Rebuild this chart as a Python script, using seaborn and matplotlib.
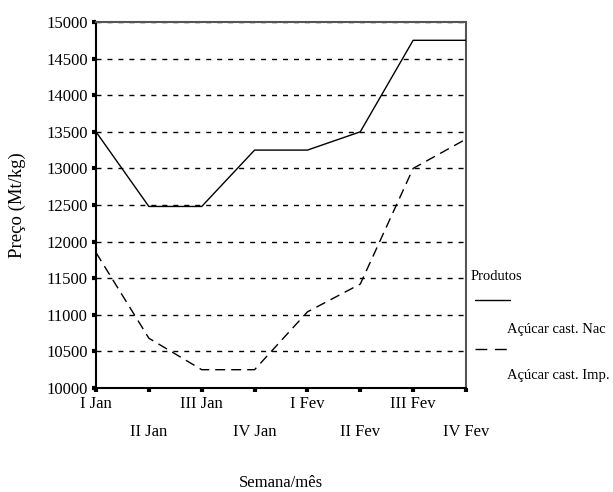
import matplotlib
matplotlib.use("Agg")
import matplotlib.pyplot as plt
from matplotlib.lines import Line2D
import seaborn as sns
import pandas as pd

weeks = ["I Jan", "II Jan", "III Jan", "IV Jan", "I Fev", "II Fev", "III Fev", "IV Fev"]
nac = [13500, 12480, 12480, 13250, 13250, 13500, 14750, 14750]
imp = [11850, 10680, 10250, 10250, 11040, 11420, 13000, 13400]
series_names = ["Açúcar cast. Nac", "Açúcar cast. Imp."]
yticks = list(range(10000, 15001, 500))

df = pd.DataFrame({
    "pos": list(range(len(weeks))) * 2,
    "Semana": weeks * 2,
    "Preco": nac + imp,
    "Produto": [series_names[0]] * len(weeks) + [series_names[1]] * len(weeks),
})

sns.set_theme(style="white")
plt.rcParams["font.family"] = ["Liberation Serif", "DejaVu Serif"]

W, H = 613, 492
fig = plt.figure(figsize=(W / 100, H / 100), dpi=100)
L, R, T, B = 96, 466, 22, 388
ax = fig.add_axes([L / W, 1 - B / H, (R - L) / W, (B - T) / H])

DASH = (7.2, 4.3)
sns.lineplot(data=df, x="pos", y="Preco", hue="Produto", style="Produto",
             palette={series_names[0]: "black", series_names[1]: "black"},
             dashes={series_names[0]: "", series_names[1]: DASH},
             linewidth=1.0, legend=False, ax=ax, zorder=3)

ax.set_xlim(0, len(weeks) - 1)
ax.set_ylim(10000, 15000)
ax.set_yticks(yticks)
ax.set_yticklabels([str(v) for v in yticks])
ax.set_xticks(range(len(weeks)))
ax.set_xticklabels(weeks)

ax.grid(axis="y", color="black", linestyle=(0, (3.6, 4.3)), linewidth=1.0, zorder=1)
ax.grid(axis="x", visible=False)

for side in ["left", "bottom"]:
    ax.spines[side].set_color("black")
    ax.spines[side].set_linewidth(1.5)
for side in ["top", "right"]:
    ax.spines[side].set_color("#555555")
    ax.spines[side].set_linewidth(1.5)

ax.tick_params(axis="both", direction="out", length=3, width=3, color="black",
               labelsize=12, labelcolor="black")
ax.tick_params(axis="y", pad=3, left=True)
ax.tick_params(axis="x", pad=3, bottom=True)
for i, tk in enumerate(ax.xaxis.get_major_ticks()):
    if i % 2 == 1:
        tk.set_pad(3 + 20)

ax.set_xlabel("Semana/mês", fontsize=12, color="black")
ax.set_ylabel("Preço (Mt/kg)", fontsize=13.5, color="black")
ax.xaxis.set_label_coords(0.5, -(475 - B) / (B - T))
ax.yaxis.set_label_coords(-(96 - 26) / (R - L), 0.5)

def fx(x):
    return x / W

def fy(y):
    return 1 - y / H

fig.text(fx(471), fy(276), "Produtos", ha="left", va="center", fontsize=10.5, color="black")
fig.add_artist(Line2D([fx(475), fx(510)], [fy(300), fy(300)], color="black", lw=1.0,
                      transform=fig.transFigure))
fig.text(fx(507), fy(329), series_names[0], ha="left", va="center", fontsize=10.5, color="black")
fig.add_artist(Line2D([fx(475), fx(510)], [fy(349), fy(349)], color="black", lw=1.0,
                      linestyle=(0, (8.5, 5.5)), transform=fig.transFigure))
fig.text(fx(507), fy(375), series_names[1], ha="left", va="center", fontsize=10.5, color="black")

fig.savefig("out.png", dpi=100)
